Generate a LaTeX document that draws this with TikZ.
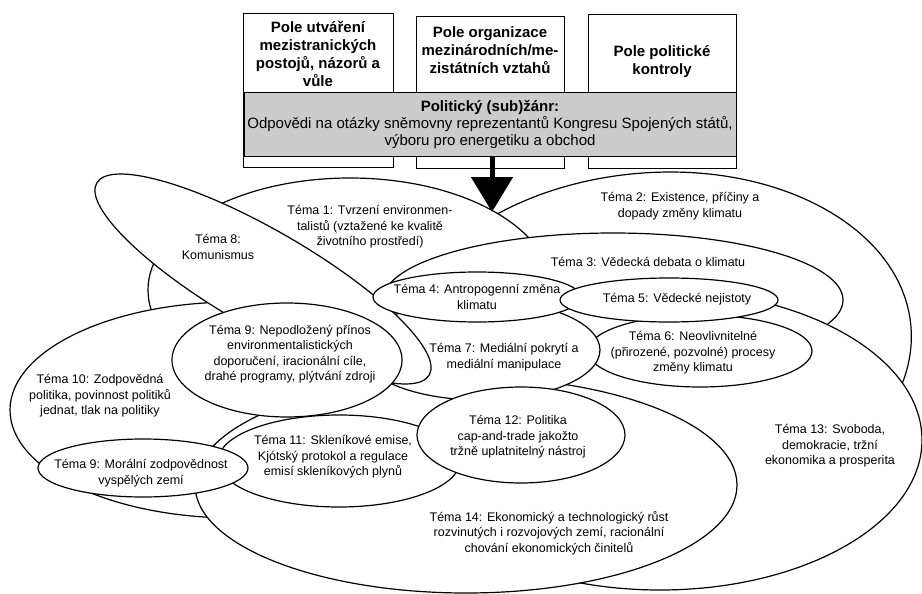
\documentclass[tikz,border=0pt]{standalone}
\usepackage{fontspec}
\setmainfont{Liberation Sans}
\usetikzlibrary{arrows.meta}

\tikzset{
	tema/.style={draw, fill=white, line width=1.2pt},
	txt/.style={font=\fontsize{12.5}{15.5}\selectfont, align=center, inner sep=0pt},
	pole/.style={draw, fill=white, line width=0.8pt, inner sep=0pt},
	poletxt/.style={font=\fontsize{15}{18}\selectfont\bfseries, align=center, inner sep=0pt},
	zanr/.style={draw, fill=gray!40, line width=0.8pt, inner sep=0pt, align=center, font=\fontsize{15}{17}\selectfont}
}

\begin{document}
\begin{tikzpicture}[x=1pt, y=-1pt]
			\useasboundingbox (0,0) rectangle (922,594);
			
			% pole nahore
			\node[pole, minimum width=150pt, minimum height=154pt] (pole1) at (318,90) {};
			\node[pole, minimum width=148pt, minimum height=152pt] (pole2) at (490,92) {};
			\node[pole, minimum width=148pt, minimum height=154pt] (pole3) at (662,91) {};
			\node[poletxt] (pole1txt) at (318,54) {Pole utváření\\mezistranických\\postojů, názorů a\\vůle};
			\node[poletxt] (pole2txt) at (490,50) {Pole organizace\\mezinárodních/me-\\zistátních vztahů};
			\node[poletxt] (pole3txt) at (662,62) {Pole politické\\kontroly};
			
			\node[zanr, minimum width=492pt, minimum height=64pt] (zanr) at (490,124) {\textbf{Politický (sub)žánr:}\\Odpovědi na otázky sněmovny reprezentantů Kongresu Spojených států,\\výboru pro energetiku a obchod};
			
			% temata (poradi = prekryti)
			\draw[tema, rotate around={5.5:(650,350)}] (650,350) ellipse (262pt and 177pt);
			\draw[tema] (350,290) ellipse (202pt and 112pt);
			\draw[tema] (613,300) ellipse (230pt and 67pt);
			\draw[tema] (660,440) ellipse (262pt and 150pt);
			\draw[tema] (235,410) ellipse (225pt and 108pt);
			\draw[tema] (466,485) ellipse (271pt and 108pt);
			\draw[tema] (700,351) ellipse (112pt and 36pt);
			\draw[tema] (480,350) ellipse (120pt and 50pt);
			\draw[tema, rotate around={-30:(263,279)}] (263,279) ellipse (192pt and 49pt);
			\draw[tema] (287,360) ellipse (115pt and 57pt);
			\draw[tema] (477,297) ellipse (104pt and 25pt);
			\draw[tema] (669,300) ellipse (109pt and 22pt);
			\draw[tema] (339,461) ellipse (121pt and 46pt);
			\draw[tema] (521,435) ellipse (104pt and 48pt);
			\draw[tema] (143,468) ellipse (105pt and 29pt);
			
			\node[txt] (t1) at (370,227) {Téma 1: Tvrzení environmen-\\talistů (vztažené ke kvalitě\\životního prostředí)};
			\node[txt] (t2) at (680,206) {Téma 2: Existence, příčiny a\\dopady změny klimatu};
			\node[txt] (t3) at (648,262) {Téma 3: Vědecká debata o klimatu};
			\node[txt] (t4) at (477,297) {Téma 4: Antropogenní změna\\klimatu};
			\node[txt] (t5) at (677,299) {Téma 5: Vědecké nejistoty};
			\node[txt] (t6) at (693,353) {Téma 6: Neovlivnitelné\\(přirozené, pozvolné) procesy\\změny klimatu};
			\node[txt] (t7) at (504,357) {Téma 7: Mediální pokrytí a\\mediální manipulace};
			\node[txt] (t8) at (218,247) {Téma 8:\\Komunismus};
			\node[txt] (t9) at (290,354) {Téma 9: Nepodložený přínos\\environmentalistických\\doporučení, iracionální cíle,\\drahé programy, plýtvání zdroji};
			\node[txt] (t10) at (100,396) {Téma 10: Zodpovědná\\politika, povinnost politiků\\jednat, tlak na politiky};
			\node[txt] (t11) at (333,457) {Téma 11: Skleníkové emise,\\Kjótský protokol a regulace\\emisí skleníkových plynů};
			\node[txt] (t12) at (518,437) {Téma 12: Politika\\cap-and-trade jakožto\\tržně uplatnitelný nástroj};
			\node[txt] (t13) at (830,446) {Téma 13: Svoboda,\\demokracie, tržní\\ekonomika a prosperita};
			\node[txt] (t14) at (549,533) {Téma 14: Ekonomický a technologický růst\\rozvinutých i rozvojových zemí, racionální\\chování ekonomických činitelů};
			\node[txt] (t9m) at (141,473) {Téma 9: Morální zodpovědnost\\vyspělých zemí};
			
			\coordinate (hrot) at (492,212);
			\draw[line width=5pt, -{Triangle[width=41pt, length=35pt]}] (zanr.south -| hrot) -- (hrot);
		\end{tikzpicture}
\end{document}
